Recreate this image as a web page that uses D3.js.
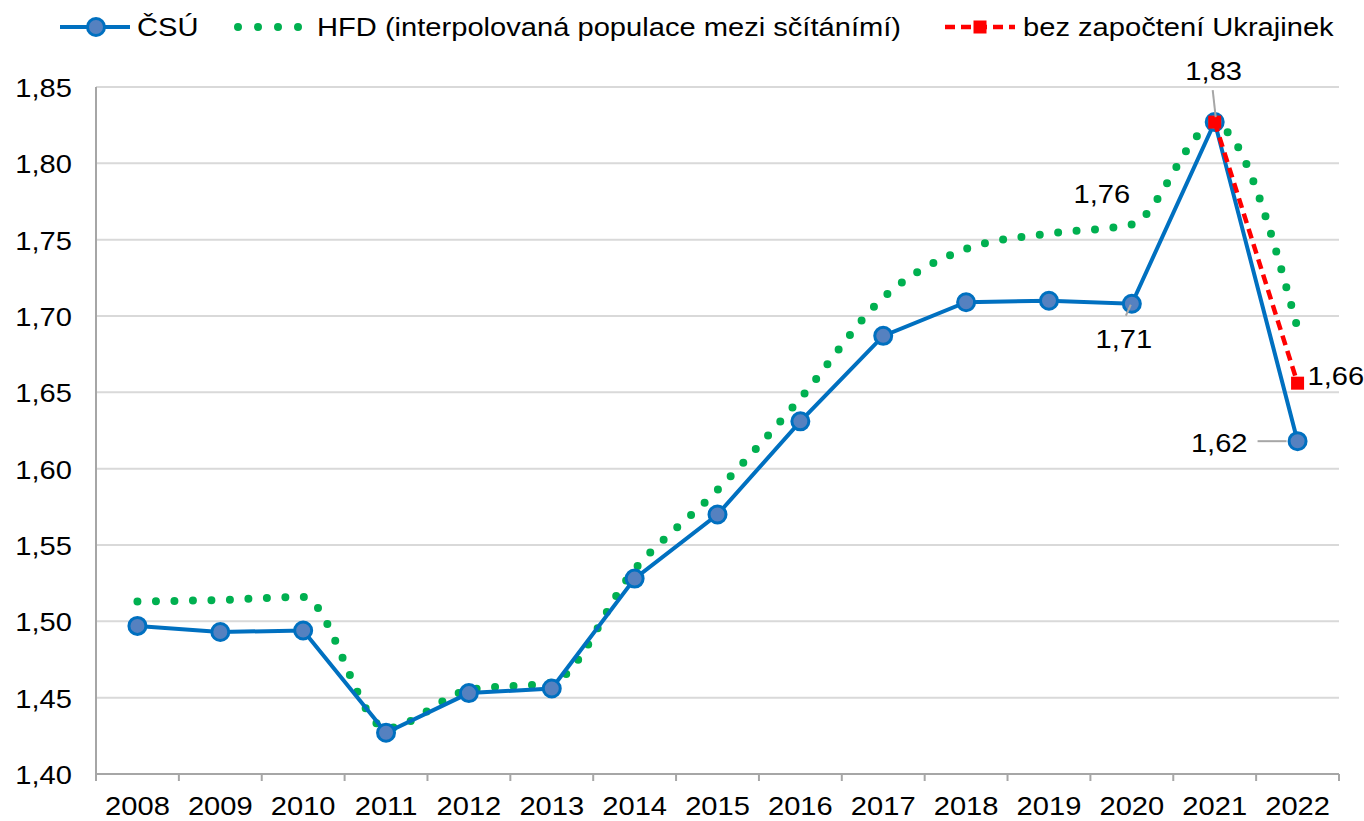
<!DOCTYPE html>
<html>
<head>
<meta charset="utf-8">
<script src="https://cdn.jsdelivr.net/npm/d3@7"></script>
<style>
  body { margin: 0; background: #fff; }
  svg { display: block; font-family: "Liberation Sans", Arial, sans-serif; }
</style>
</head>
<body>
<svg id="chart" width="1364" height="821"></svg>
<script>
const years = ['2008','2009','2010','2011','2012','2013','2014','2015','2016','2017','2018','2019','2020','2021','2022'];
const csuValues = [1.497, 1.493, 1.494, 1.427, 1.453, 1.456, 1.528, 1.570, 1.631, 1.687, 1.709, 1.710, 1.708, 1.827, 1.618];
const hfdValues = [1.513, 1.514, 1.516, 1.430, 1.455, 1.460, 1.534, 1.586, 1.646, 1.712, 1.744, 1.754, 1.760, 1.825, 1.692];
const ukrYears = ['2021','2022'];
const ukrValues = [1.827, 1.656];
const yTicks = [1.40, 1.45, 1.50, 1.55, 1.60, 1.65, 1.70, 1.75, 1.80, 1.85];
const seriesNames = ['ČSÚ', 'HFD (interpolovaná populace mezi sčítánímí)', 'bez započtení Ukrajinek'];

const svg = d3.select('#chart');
const fmt = v => d3.format('.2f')(v).replace('.', ',');
const FS = 26, SX = 1.12;

// text is slightly wider than normal in the source, so stretch horizontally
function label(parent, x, y, str, anchor) {
  return parent.append('text')
    .attr('transform', `translate(${x},${y}) scale(${SX},1)`)
    .attr('text-anchor', anchor || 'start')
    .attr('font-size', FS).attr('fill', '#000')
    .text(str);
}

const x = d3.scaleBand().domain(years).range([96, 1339]).padding(0);
const y = d3.scaleLinear().domain([1.40, 1.85]).range([774, 87]);
const cx = d => x(d) + x.bandwidth() / 2;

// gridlines
svg.append('g').selectAll('line')
  .data(yTicks.slice(1))
  .join('line')
  .attr('x1', 96).attr('x2', 1339)
  .attr('y1', d => y(d)).attr('y2', d => y(d))
  .attr('stroke', '#d9d9d9').attr('stroke-width', 2);

// axes
svg.append('line').attr('x1', 96).attr('x2', 96).attr('y1', y(1.85)).attr('y2', y(1.40))
  .attr('stroke', '#a6a6a6').attr('stroke-width', 2);
svg.append('line').attr('x1', 96).attr('x2', 1339).attr('y1', y(1.40)).attr('y2', y(1.40))
  .attr('stroke', '#a6a6a6').attr('stroke-width', 2);

const edges = years.map(d => x(d)).concat([x(years[years.length - 1]) + x.bandwidth()]);
svg.append('g').selectAll('line')
  .data(edges)
  .join('line')
  .attr('x1', d => d).attr('x2', d => d)
  .attr('y1', y(1.40)).attr('y2', y(1.40) + 7)
  .attr('stroke', '#a6a6a6').attr('stroke-width', 2);

const xLabels = svg.append('g');
years.forEach(d => label(xLabels, cx(d), 815, d, 'middle'));

const yLabels = svg.append('g');
yTicks.forEach(d => label(yLabels, 72, y(d) + 10, fmt(d), 'end'));

// HFD dotted smooth line
const hfdLine = d3.line()
  .x((d, i) => cx(years[i]))
  .y(d => y(d))
  .curve(d3.curveMonotoneX);
svg.append('path')
  .attr('d', hfdLine(hfdValues))
  .attr('fill', 'none')
  .attr('stroke', '#00b050')
  .attr('stroke-width', 8)
  .attr('stroke-linecap', 'round')
  .attr('stroke-dasharray', '0 18.5');

// CSU line
const csuLine = d3.line().x((d, i) => cx(years[i])).y(d => y(d));
svg.append('path')
  .attr('d', csuLine(csuValues))
  .attr('fill', 'none')
  .attr('stroke', '#0070c0')
  .attr('stroke-width', 4);

svg.append('g').selectAll('circle')
  .data(csuValues)
  .join('circle')
  .attr('cx', (d, i) => cx(years[i]))
  .attr('cy', d => y(d))
  .attr('r', 8.5)
  .attr('fill', '#5581c0')
  .attr('stroke', '#0070c0')
  .attr('stroke-width', 3);

// Ukraine-excluded line
const ukrLine = d3.line().x((d, i) => cx(ukrYears[i])).y(d => y(d));
svg.append('path')
  .attr('d', ukrLine(ukrValues))
  .attr('fill', 'none')
  .attr('stroke', '#ff0000')
  .attr('stroke-width', 4.5)
  .attr('stroke-dasharray', '10 6');

svg.append('g').selectAll('rect')
  .data(ukrValues)
  .join('rect')
  .attr('x', (d, i) => cx(ukrYears[i]) - 6.5)
  .attr('y', d => y(d) - 6.5)
  .attr('width', 13).attr('height', 13)
  .attr('fill', '#ff0000');

// data labels with leader lines
const labels = [
  { v: csuValues[13], year: '2021', dx: -1, dy: -42, anchor: 'middle', leader: [[-2, -32], [1, -5]] },
  { v: hfdValues[12], year: '2020', dx: -30, dy: -21, anchor: 'middle', leader: null },
  { v: csuValues[12], year: '2020', dx: -8, dy: 44, anchor: 'middle', leader: [[-6, 12], [-1, 1]] },
  { v: ukrValues[1], year: '2022', dx: 10, dy: 2, anchor: 'start', leader: null },
  { v: csuValues[14], year: '2022', dx: -50, dy: 11, anchor: 'end', leader: [[-40, 0], [-11, 0]] }
];
const dataLabels = svg.append('g');
labels.forEach(l => {
  const px = cx(l.year), py = y(l.v);
  if (l.leader) {
    dataLabels.append('line')
      .attr('x1', px + l.leader[0][0]).attr('y1', py + l.leader[0][1])
      .attr('x2', px + l.leader[1][0]).attr('y2', py + l.leader[1][1])
      .attr('stroke', '#a6a6a6').attr('stroke-width', 2);
  }
  label(dataLabels, px + l.dx, py + l.dy, fmt(l.v), l.anchor);
});

// legend
const legend = svg.append('g');
const ly = 27;
legend.append('line').attr('x1', 60).attr('x2', 130).attr('y1', ly).attr('y2', ly)
  .attr('stroke', '#0070c0').attr('stroke-width', 4);
legend.append('circle').attr('cx', 96).attr('cy', ly).attr('r', 8.5)
  .attr('fill', '#5581c0').attr('stroke', '#0070c0').attr('stroke-width', 3);
label(legend, 137, ly + 9, seriesNames[0]);

legend.append('line').attr('x1', 238).attr('x2', 299).attr('y1', ly).attr('y2', ly)
  .attr('stroke', '#00b050').attr('stroke-width', 8)
  .attr('stroke-linecap', 'round').attr('stroke-dasharray', '0 20');
label(legend, 317, ly + 9, seriesNames[1]);

legend.append('line').attr('x1', 945).attr('x2', 1015).attr('y1', ly).attr('y2', ly)
  .attr('stroke', '#ff0000').attr('stroke-width', 4.5).attr('stroke-dasharray', '10 6');
legend.append('rect').attr('x', 973.5).attr('y', ly - 6.5).attr('width', 13).attr('height', 13)
  .attr('fill', '#ff0000');
label(legend, 1023, ly + 9, seriesNames[2]);
</script>
</body>
</html>
